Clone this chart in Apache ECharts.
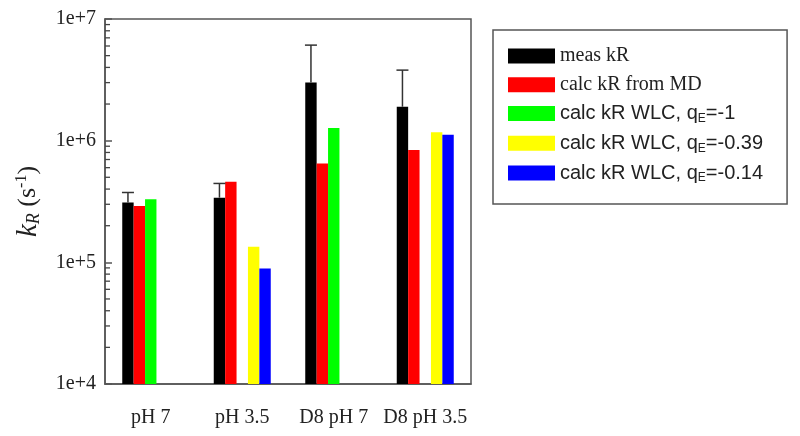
<!DOCTYPE html>
<html>
<head>
<meta charset="utf-8">
<script src="https://cdn.jsdelivr.net/npm/echarts@6/dist/echarts.min.js"></script>
<style>html,body{margin:0;padding:0;background:#fff}#c{width:800px;height:436px}</style>
</head>
<body>
<div id="c"></div>
<script>
// ---- data ----
const categories = ['pH 7', 'pH 3.5', 'D8 pH 7', 'D8 pH 3.5'];
const seriesNames = ['meas kR', 'calc kR from MD', 'calc kR WLC, qE=-1', 'calc kR WLC, qE=-0.39', 'calc kR WLC, qE=-0.14'];
const measKR = [3.1e5, 3.4e5, 3.0e6, 1.9e6];
const calcMD = [2.9e5, 4.6e5, 6.5e5, 8.4e5];
const wlc1 = [3.3e5, null, 1.27e6, null];
const wlc039 = [null, 1.34e5, null, 1.17e6];
const wlc014 = [null, 8.9e4, null, 1.12e6];
const measErrTop = [3.75e5, 4.45e5, 6.1e6, 3.8e6];
const yTickLabels = ['1e+4', '1e+5', '1e+6', '1e+7'];
const minorTickValues = [2e4,3e4,4e4,5e4,6e4,7e4,8e4,9e4,2e5,3e5,4e5,5e5,6e5,7e5,8e5,9e5,2e6,3e6,4e6,5e6,6e6,7e6,8e6,9e6];
const colors = ['#000000', '#ff0000', '#00ff00', '#ffff00', '#0000ff'];

const BAR_W = 11.4;
const chart = echarts.init(document.getElementById('c'));

function legendFmt(name) {
  const m = name.match(/^calc kR WLC, qE(.*)$/);
  if (m) return '{sans|calc kR WLC, q}{sub|E}{sans|' + m[1] + '}';
  return '{serif|' + name + '}';
}

const barSeries = [measKR, calcMD, wlc1, wlc039, wlc014].map((d, i) => ({
  name: seriesNames[i],
  type: 'bar',
  data: d,
  barWidth: BAR_W,
  barGap: '0%',
  itemStyle: { color: colors[i] },
  emphasis: { disabled: true },
  z: 2
}));

const option = {
  animation: false,
  grid: { left: 105, top: 19, right: 329, bottom: 52, show: true, borderColor: '#555', borderWidth: 1.5, backgroundColor: 'transparent' },
  legend: {
    data: seriesNames,
    orient: 'vertical',
    left: 493, top: 30,
    padding: [16, 24, 20, 15],
    itemWidth: 47, itemHeight: 15, itemGap: 8.75,
    borderColor: '#555', borderWidth: 1.5,
    icon: 'rect',
    selectedMode: false,
    formatter: legendFmt,
    textStyle: {
      color: '#222',
      rich: {
        serif: { fontFamily: 'Liberation Serif', fontSize: 20, color: '#222' },
        sans: { fontFamily: 'Liberation Sans', fontSize: 20, color: '#222' },
        sub: { fontFamily: 'Liberation Sans', fontSize: 12, color: '#222', verticalAlign: 'bottom', padding: [10, 0, 0, 0] }
      }
    }
  },
  xAxis: {
    type: 'category',
    data: categories,
    axisLine: { lineStyle: { color: '#555', width: 1.5 } },
    axisTick: { alignWithLabel: true, length: 6, lineStyle: { color: '#555', width: 1.5 } },
    axisLabel: { interval: 0, fontFamily: 'Liberation Serif', fontSize: 20, color: '#222', margin: 24 },
    splitLine: { show: false }
  },
  yAxis: {
    type: 'log',
    logBase: 10,
    min: 1e4, max: 1e7,
    axisLine: { show: true, lineStyle: { color: '#555', width: 1.5 } },
    axisTick: { show: true, inside: true, length: 7, lineStyle: { color: '#555', width: 1.5 } },
    axisLabel: {
      fontFamily: 'Liberation Serif', fontSize: 20, color: '#222', margin: 9,
      formatter: v => yTickLabels[Math.round(Math.log10(v)) - 4]
    },
    splitLine: { show: false },
    name: '{k|k}{r|R}{n| (s}{sup|-1}{n|)}',
    nameLocation: 'middle',
    nameRotate: 90,
    nameGap: 62,
    nameTextStyle: {
      rich: {
        k: { fontFamily: 'Liberation Serif', fontStyle: 'italic', fontSize: 29, color: '#222' },
        r: { fontFamily: 'Liberation Serif', fontStyle: 'italic', fontSize: 18, color: '#222', padding: [12, 0, 0, 0] },
        n: { fontFamily: 'Liberation Serif', fontSize: 26, color: '#222' },
        sup: { fontFamily: 'Liberation Serif', fontSize: 16, color: '#222', padding: [0, 0, 12, 0] }
      }
    }
  },
  series: barSeries.concat([
    {
      type: 'custom',
      name: 'err',
      data: categories.map((c, i) => [i, measErrTop[i], measKR[i]]),
      encode: { x: 0, y: 1 },
      z: 3,
      silent: true,
      renderItem: function (params, api) {
        const top = api.coord([api.value(0), api.value(1)]);
        const base = api.coord([api.value(0), api.value(2)]);
        const x = top[0] - 2 * BAR_W;
        const hw = 6;
        return {
          type: 'group',
          children: [
            { type: 'line', shape: { x1: x, y1: base[1], x2: x, y2: top[1] }, style: { stroke: '#333', lineWidth: 1.5 } },
            { type: 'line', shape: { x1: x - hw, y1: top[1], x2: x + hw, y2: top[1] }, style: { stroke: '#333', lineWidth: 1.5 } }
          ]
        };
      }
    },
    {
      type: 'custom',
      name: 'minor',
      data: minorTickValues.map(v => [0, v]),
      encode: { x: 0, y: 1 },
      z: 4,
      silent: true,
      clip: false,
      renderItem: function (params, api) {
        const p = api.coord([0, api.value(1)]);
        const x0 = params.coordSys.x;
        return { type: 'line', shape: { x1: x0, y1: p[1], x2: x0 + 5, y2: p[1] }, style: { stroke: '#444', lineWidth: 1.3 } };
      }
    }
  ])
};
chart.setOption(option);
</script>
</body>
</html>
